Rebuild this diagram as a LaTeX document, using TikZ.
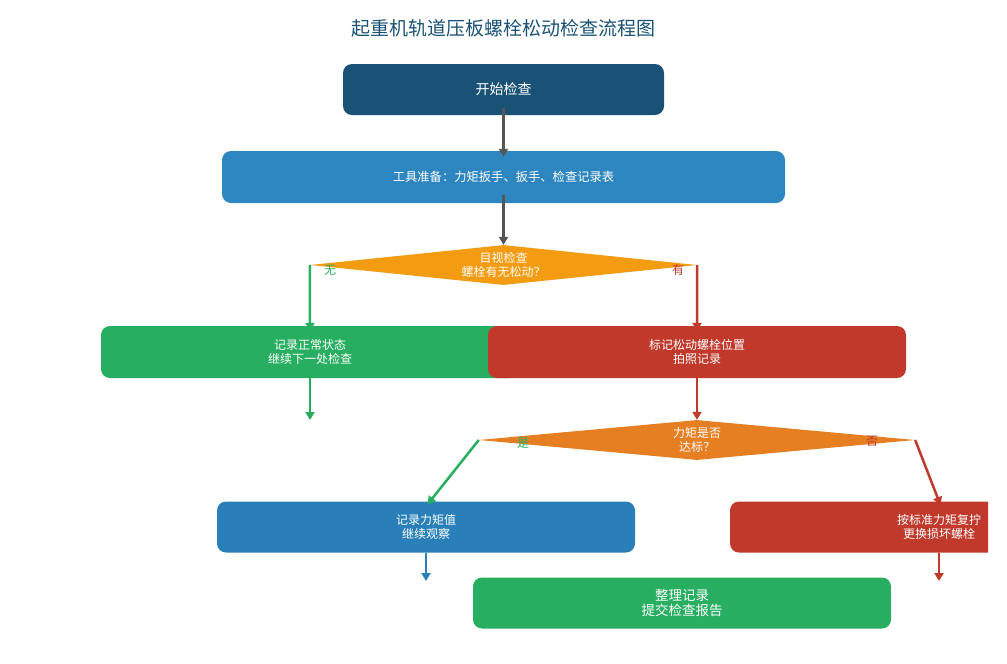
\documentclass[tikz,border=0pt]{standalone}
\usepackage{fontspec}
\newfontfamily\cjk{Noto Sans CJK SC}
\usetikzlibrary{positioning}
\usetikzlibrary{arrows.meta}
\usetikzlibrary{shapes.geometric}

\definecolor{titleblue}{HTML}{1A5276}
\definecolor{prepblue}{HTML}{2E86C1}
\definecolor{okblue}{HTML}{2980B9}
\definecolor{yesgreen}{HTML}{27AE60}
\definecolor{nored}{HTML}{C0392B}
\definecolor{dorange}{HTML}{F39C12}
\definecolor{dorangetwo}{HTML}{E67E22}
\definecolor{arrowgray}{HTML}{555555}

\begin{document}
\begin{tikzpicture}[x=1pt,y=-1pt]

\tikzstyle{boxnode} = [rounded corners=9pt, minimum width=418pt, minimum height=51pt, inner sep=0pt, text=white, align=center, font=\cjk\fontsize{12}{14}\selectfont]
\tikzstyle{decnode} = [diamond, aspect=10, inner sep=0pt, minimum height=40pt, text=white, align=center, font=\cjk\fontsize{12}{14}\selectfont]
\tikzstyle{labelnode} = [font=\cjk\fontsize{12}{14}\selectfont]
\tikzstyle{myedgestyle} = [line width=2.5pt, -{Triangle[length=8pt,width=9pt]}]

\useasboundingbox (0,0) rectangle (1007,664);

\node [font=\cjk\fontsize{19}{22}\selectfont, text=titleblue] (t) at (503,28) {起重机轨道压板螺栓松动检查流程图};

% main column
\node [boxnode, fill=titleblue, minimum width=321pt, font=\cjk\fontsize{14}{16}\selectfont] (v1) at (503.5,89.5) {开始检查};
\node [boxnode, fill=prepblue, minimum width=563pt, minimum height=52pt, font=\cjk\fontsize{12.3}{14}\selectfont] (v2) at (503.5,177) {工具准备：力矩扳手、扳手、检查记录表};
\node [decnode, fill=dorange, minimum width=387pt] (v3) at (503.5,265) {目视检查\\螺栓有无松动？};
\node [boxnode, fill=yesgreen, minimum height=52pt] (v4) at (310,352) {记录正常状态\\继续下一处检查};
\node [boxnode, fill=nored, minimum height=52pt] (v5) at (697,352) {标记松动螺栓位置\\拍照记录};
\node [decnode, fill=dorangetwo, minimum width=436pt] (v6) at (697,440) {力矩是否\\达标？};
\node [boxnode, fill=okblue] (v7) at (426,527) {记录力矩值\\继续观察};
\begin{scope}
  \clip (0,0) rectangle (988,664);
  \node [boxnode, fill=nored] (v8) at (939,527) {按标准力矩复拧\\更换损坏螺栓};
\end{scope}
\node [boxnode, fill=yesgreen, font=\cjk\fontsize{13.5}{15.5}\selectfont] (v9) at (682,603) {整理记录\\提交检查报告};

\coordinate (e1) at (310,420);
\coordinate (e2) at (426,581);
\coordinate (e3) at (939,581);

% branch labels
\node [labelnode, text=yesgreen] (l1) at (330,270) {无};
\node [labelnode, text=nored] (l2) at (678,270) {有};
\node [labelnode, text=yesgreen] (l3) at (523,443) {是};
\node [labelnode, text=nored] (l4) at (872,441) {否};

% connectors
\draw [myedgestyle, arrowgray, shorten <=-7pt, shorten >=-6pt] (v1) -- (v2);
\draw [myedgestyle, arrowgray, shorten <=-8pt] (v2) -- (v3);
\draw [myedgestyle, yesgreen, shorten >=-5pt] (v3.west) -- (v4.north);
\draw [myedgestyle, nored, shorten >=-5pt] (v3.east) -- (v5.north);
\draw [myedgestyle, yesgreen] (v4) -- (e1);
\draw [myedgestyle, nored] (v5) -- (v6);
\draw [myedgestyle, yesgreen, shorten >=-4pt] (v6.west) -- ([xshift=4pt]v7.north);
\draw [myedgestyle, nored, shorten >=-4pt] (v6.east) -- (v8.north);
\draw [myedgestyle, okblue] (v7) -- (e2);
\draw [myedgestyle, nored] (v8) -- (e3);

\end{tikzpicture}
\end{document}
